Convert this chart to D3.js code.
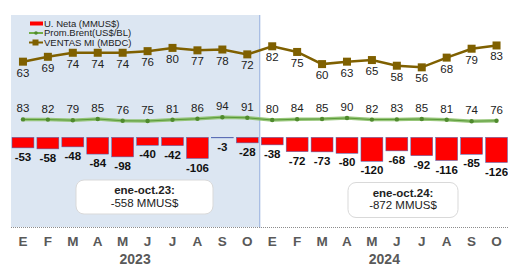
<!DOCTYPE html>
<html>
<head>
<meta charset="utf-8">
<script src="https://cdn.jsdelivr.net/npm/d3@7"></script>
<style>
  body { margin: 0; background: #fff; }
  svg { display: block; font-family: "Liberation Sans", Arial, sans-serif; }
</style>
</head>
<body>
<div id="chart"></div>
<script>
const months = ["E","F","M","A","M","J","J","A","S","O","E","F","M","A","M","J","J","A","S","O"];
const years = ["2023", "2024"];
const uNeta = [-53,-58,-48,-84,-98,-40,-42,-106,-3,-28, -38,-72,-73,-80,-120,-68,-92,-116,-85,-126];
const brent = [83,82,79,85,76,75,81,86,94,91, 80,84,85,90,82,83,85,81,74,76];
const ventas = [63,69,74,74,74,76,80,77,78,72, 82,75,60,63,65,58,56,68,79,83];
const callouts = [
  { year: "2023", title: "ene-oct.23:", value: "-558 MMUS$" },
  { year: "2024", title: "ene-oct.24:", value: "-872 MMUS$" }
];

const width = 508, height = 268;
const svg = d3.select("#chart").append("svg")
  .attr("width", width).attr("height", height);

const idx = d3.range(months.length);
const x = d3.scaleBand().domain(idx).range([10.5, 509]).paddingInner(0.12).paddingOuter(0.06);
const xYear = d3.scaleBand().domain(years).range([10.5, 509]);
const yV = d3.scaleLinear().domain([0, 100]).range([112.7, 31.7]);
const yB = d3.scaleLinear().domain([0, 100]).range([136, 116]);
const yU = d3.scaleLinear().domain([-130, 0]).range([163.3, 137.3]);
const cx = i => x(i) + x.bandwidth() / 2;

// 2023 shaded area + divider
svg.append("rect")
  .attr("x", xYear("2023") + 0.5).attr("y", 15)
  .attr("width", xYear.bandwidth() - 1).attr("height", 212)
  .attr("fill", "#dce6f2");
svg.append("line")
  .attr("x1", xYear("2024")).attr("x2", xYear("2024"))
  .attr("y1", 15).attr("y2", 228)
  .attr("stroke", "#8faadc").attr("stroke-width", 1);

// dotted baseline
svg.append("line")
  .attr("x1", 11).attr("x2", 508).attr("y1", 227.5).attr("y2", 227.5)
  .attr("stroke", "#8c8c8c").attr("stroke-width", 1).attr("stroke-dasharray", "1,1");

// bars
svg.append("g").selectAll("rect").data(uNeta).join("rect")
  .attr("x", (d, i) => x(i))
  .attr("y", yU(0))
  .attr("width", x.bandwidth())
  .attr("height", d => yU(d) - yU(0))
  .attr("fill", "#ff0000")
  .attr("stroke", "#4472c4").attr("stroke-width", 0.5);
svg.append("g").selectAll("text").data(uNeta).join("text")
  .attr("x", (d, i) => cx(i))
  .attr("y", d => yU(d) + 13)
  .attr("text-anchor", "middle")
  .attr("font-size", 11.5).attr("font-weight", "bold").attr("fill", "#111")
  .text(d => d);

// brent line
const lineB = d3.line().x((d, i) => cx(i)).y(d => yB(d));
svg.append("path").datum(brent).attr("d", lineB)
  .attr("fill", "none").attr("stroke", "#8cc06a").attr("stroke-width", 3.5).attr("opacity", 0.9);
svg.append("path").datum(brent).attr("d", lineB)
  .attr("fill", "none").attr("stroke", "#5b9b3a").attr("stroke-width", 1);
svg.append("g").selectAll("circle").data(brent).join("circle")
  .attr("cx", (d, i) => cx(i)).attr("cy", d => yB(d)).attr("r", 2.2)
  .attr("fill", "#4f8a2d");
svg.append("g").selectAll("text").data(brent).join("text")
  .attr("x", (d, i) => cx(i))
  .attr("y", d => yB(d) - 7)
  .attr("text-anchor", "middle")
  .attr("font-size", 11.5).attr("fill", "#222")
  .text(d => d);

// ventas line
const lineV = d3.line().x((d, i) => cx(i)).y(d => yV(d));
svg.append("path").datum(ventas).attr("d", lineV)
  .attr("fill", "none").attr("stroke", "#7f6000").attr("stroke-width", 2.5);
svg.append("g").selectAll("rect").data(ventas).join("rect")
  .attr("x", (d, i) => cx(i) - 4).attr("y", d => yV(d) - 4)
  .attr("width", 8).attr("height", 8)
  .attr("fill", "#7f6000");
svg.append("g").selectAll("text").data(ventas).join("text")
  .attr("x", (d, i) => cx(i))
  .attr("y", d => yV(d) + 15)
  .attr("text-anchor", "middle")
  .attr("font-size", 11.5).attr("fill", "#222")
  .text(d => d);

// legend
const legend = svg.append("g").attr("font-size", 9.5).attr("fill", "#222");
legend.append("rect").attr("x", 30).attr("y", 21.5).attr("width", 13).attr("height", 4).attr("fill", "#ff0000");
legend.append("text").attr("x", 44).attr("y", 26.5).text("U. Neta (MMUS$)");
legend.append("line").attr("x1", 29).attr("x2", 43).attr("y1", 33).attr("y2", 33)
  .attr("stroke", "#70ad47").attr("stroke-width", 2);
legend.append("circle").attr("cx", 36).attr("cy", 33).attr("r", 1.8).attr("fill", "#4f8a2d");
legend.append("text").attr("x", 44).attr("y", 36).text("Prom.Brent(US$/BL)");
legend.append("line").attr("x1", 29).attr("x2", 43).attr("y1", 42.5).attr("y2", 42.5)
  .attr("stroke", "#7f6000").attr("stroke-width", 2);
legend.append("rect").attr("x", 32.5).attr("y", 39.5).attr("width", 6).attr("height", 6).attr("fill", "#7f6000");
legend.append("text").attr("x", 44).attr("y", 46).text("VENTAS MI (MBDC)");

// callouts
const boxes = [{ x: 76, y: 180, w: 137, h: 34 }, { x: 348, y: 182.5, w: 110, h: 35 }];
callouts.forEach((c, k) => {
  const b = boxes[k];
  const g = svg.append("g");
  g.append("rect").attr("x", b.x).attr("y", b.y).attr("width", b.w).attr("height", b.h)
    .attr("rx", 8).attr("fill", "#fff").attr("stroke", "#d9d9d9");
  g.append("text").attr("x", b.x + b.w / 2).attr("y", b.y + 14)
    .attr("text-anchor", "middle").attr("font-size", 11.5).attr("font-weight", "bold").attr("fill", "#222")
    .text(c.title);
  g.append("text").attr("x", b.x + b.w / 2).attr("y", b.y + 26.5)
    .attr("text-anchor", "middle").attr("font-size", 11.5).attr("fill", "#222")
    .text(c.value);
});

// month axis
const axis = svg.append("g").attr("transform", "translate(0,236)")
  .call(d3.axisBottom(x).tickSize(0).tickPadding(0).tickFormat(i => months[i]));
axis.select(".domain").remove();
axis.selectAll("text")
  .attr("font-family", "Liberation Sans, Arial, sans-serif")
  .attr("font-size", 13.5).attr("font-weight", "bold").attr("fill", "#595959");

// year axis
const yearAxis = svg.append("g").attr("transform", "translate(0,254)")
  .call(d3.axisBottom(xYear).tickSize(0).tickPadding(0));
yearAxis.select(".domain").remove();
yearAxis.selectAll("text")
  .attr("font-family", "Liberation Sans, Arial, sans-serif")
  .attr("font-size", 14).attr("font-weight", "bold").attr("fill", "#595959");
</script>
</body>
</html>
